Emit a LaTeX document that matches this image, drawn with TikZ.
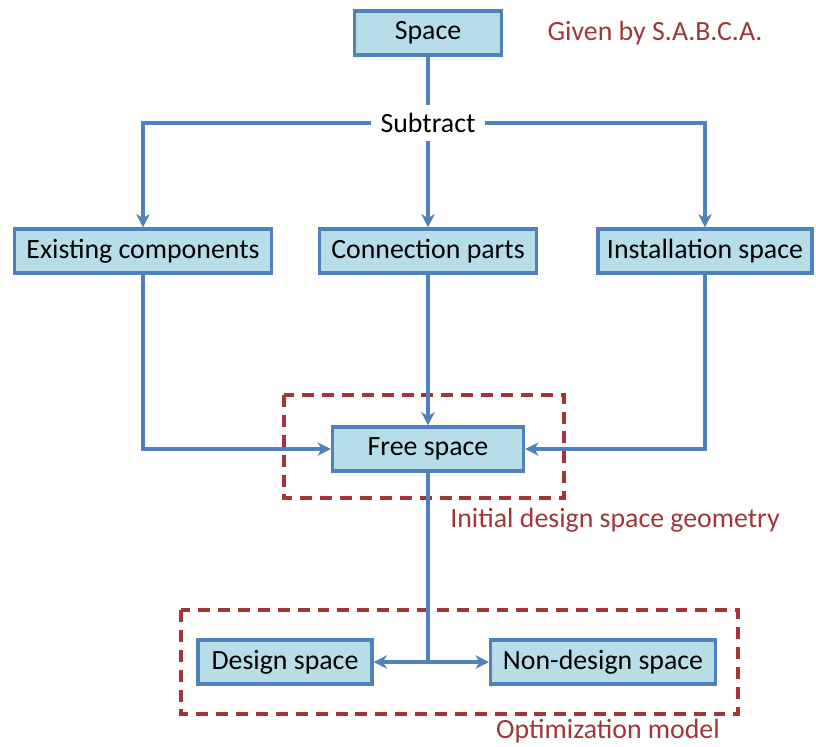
\documentclass[tikz,border=0pt]{standalone}
\usepackage{fontspec}
\setmainfont{Carlito}
\usepackage{xcolor}
\usetikzlibrary{arrows.meta, positioning, calc}
\definecolor{boxfill}{HTML}{B7DEE8}
\definecolor{boxline}{HTML}{4F81BD}
\definecolor{darkred}{HTML}{A0363A}
\tikzset{
  block/.style={rectangle, draw=boxline, fill=boxfill, line width=2.4pt,
                minimum height=44*0.0265cm, inner xsep=5pt,
                align=center, font=\fontsize{21}{25}\selectfont},
  plain/.style={font=\fontsize{21}{25}\selectfont, fill=white, inner xsep=7pt, inner ysep=6pt},
  note/.style={font=\fontsize{21}{25}\selectfont, text=darkred},
  arrow/.style={-{Stealth[length=10pt, width=10pt, inset=3pt]}, draw=boxline, line width=2.4pt},
  link/.style={draw=boxline, line width=2.4pt},
  group/.style={draw=darkred, line width=2.4pt, dash pattern=on 9pt off 6pt},
}

\begin{document}
\begin{tikzpicture}[x=0.0265cm, y=-0.0265cm]
  \useasboundingbox (0,0) rectangle (816,747);

  % Top
  \node[block, minimum width=147*0.0265cm] (space) at (428,33) {Space};
  \node[note] (given) at (655,33) {Given by S.A.B.C.A.};
  \node[plain] (sub) at (428,123) {Subtract};

  % Parts to subtract
  \node[block, minimum width=257*0.0265cm] (exist) at (143,251) {Existing components};
  \node[block, minimum width=217*0.0265cm] (conn) at (428,251) {Connection parts};
  \node[block, minimum width=214*0.0265cm] (inst) at (705,251) {Installation space};

  % Result
  \node[block, minimum width=191*0.0265cm] (free) at (428,449) {Free space};
  \node[block, minimum width=174*0.0265cm] (design) at (285,662) {Design space};
  \node[block, minimum width=225*0.0265cm] (nondes) at (603,662) {Non-design space};

  % Dashed groups
  \draw[group] (284,395) rectangle (564,498);
  \node[note] (initial) at (615,520) {Initial design space geometry};
  \draw[group] (181,610) rectangle (738,714);
  \node[note] (optim) at (608,731) {Optimization model};

  % Edges
  \draw[link] (space.south) -- (sub.north);
  \draw[arrow] (sub.west) -| (exist.north);
  \draw[arrow] (sub.south) -- (conn.north);
  \draw[arrow] (sub.east) -| (inst.north);

  \draw[arrow] (exist.south) |- (free.west);
  \draw[arrow] (conn.south) -- (free.north);
  \draw[arrow] (inst.south) |- (free.east);

  \coordinate (split) at (free.south |- design.east);
  \draw[link] (free.south) -- (split);
  \draw[arrow] (split) -- (design.east);
  \draw[arrow] (split) -- (nondes.west);

\end{tikzpicture}
\end{document}
